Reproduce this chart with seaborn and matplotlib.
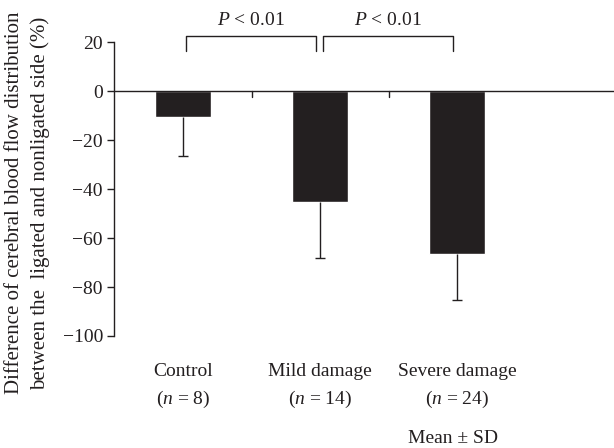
import matplotlib
matplotlib.use("Agg")
import matplotlib.pyplot as plt
import seaborn as sns
import pandas as pd
import numpy as np
import matplotlib.transforms as mtransforms

groups = ["Control", "Mild damage", "Severe damage"]
n_labels = ["($\\it{n}$ = 8)", "($\\it{n}$ = 14)", "($\\it{n}$ = 24)"]
means = [-10.3, -45.2, -66.3]
sds = [16.1, 22.9, 18.8]
yticks = [20, 0, -20, -40, -60, -80, -100]
p_texts = ["$\\it{P}$ < 0.01", "$\\it{P}$ < 0.01"]

sns.set_theme(style="white")
plt.rcParams['font.family'] = ['Liberation Serif', 'DejaVu Serif']
plt.rcParams['mathtext.fontset'] = 'custom'
plt.rcParams['mathtext.rm'] = 'Liberation Serif'
plt.rcParams['mathtext.it'] = 'Liberation Serif:italic'

dark = "#231f20"
fs = 14

fig = plt.figure(figsize=(6.14, 4.48), dpi=100)
ax = fig.add_axes([114/614, 1-336/448, 1-114/614, (336-42.5)/448])

df = pd.DataFrame({"group": groups, "mean": means})
sns.barplot(data=df, x="group", y="mean", color=dark, width=0.41,
            saturation=1, ax=ax, errorbar=None)
xs = np.arange(len(groups))
lows = np.array(means) - np.array(sds)
ax.vlines(xs, lows, means, color=dark, lw=1.0)
ax.hlines(lows, xs - 0.035, xs + 0.035, color=dark, lw=1.0)

ax.set_xlim(-0.504, 3.146)
ax.set_ylim(-100, 20)
ax.set_yticks(yticks)
ax.set_yticklabels([f"{v}".replace("-", "\u2212") for v in yticks], fontsize=fs, color=dark)
ax.tick_params(axis='y', direction='out', length=5, width=1, color=dark, pad=3, left=True)
ax.set_xticks([])
ax.set_xlabel("")
ax.set_ylabel("")
for s in ["top", "right", "bottom"]:
    ax.spines[s].set_visible(False)
ax.spines["left"].set_color(dark)
ax.spines["left"].set_linewidth(1)

# zero line with small ticks
ax.axhline(0, color=dark, lw=1, zorder=1)
for xt in [0.5, 1.5]:
    ax.plot([xt, xt], [0, -2.2], color=dark, lw=1)

# brackets
brackets = [(0.02, 0.97), (1.02, 1.97)]
for (x0, x1), t in zip(brackets, p_texts):
    ax.plot([x0, x0, x1, x1], [16.5, 22.7, 22.7, 16.5], color=dark, lw=1, clip_on=False)
    ax.text((x0 + x1) / 2, 28.8, t, ha="center", va="center", fontsize=fs, color=dark, clip_on=False)

# x labels
trans = mtransforms.blended_transform_factory(ax.transData, fig.transFigure)
for i, (g, nl) in enumerate(zip(groups, n_labels)):
    ax.text(i, 1 - 371/448, g, transform=trans, ha="center", va="center", fontsize=fs, color=dark)
    ax.text(i, 1 - 399/448, nl, transform=trans, ha="center", va="center", fontsize=fs, color=dark)
ax.text(1.97, 1 - 438/448, "Mean \u00b1 SD", transform=trans, ha="center", va="center", fontsize=fs, color=dark)

# y label
fig.text(15/614, 1 - 203/448, "Difference of cerebral blood flow distribution", rotation=90,
         ha="center", va="center", fontsize=15, color=dark)
fig.text(40/614, 1 - 203/448, "between the  ligated and nonligated side (%)", rotation=90,
         ha="center", va="center", fontsize=15, color=dark)

fig.savefig("out.png", dpi=100)
